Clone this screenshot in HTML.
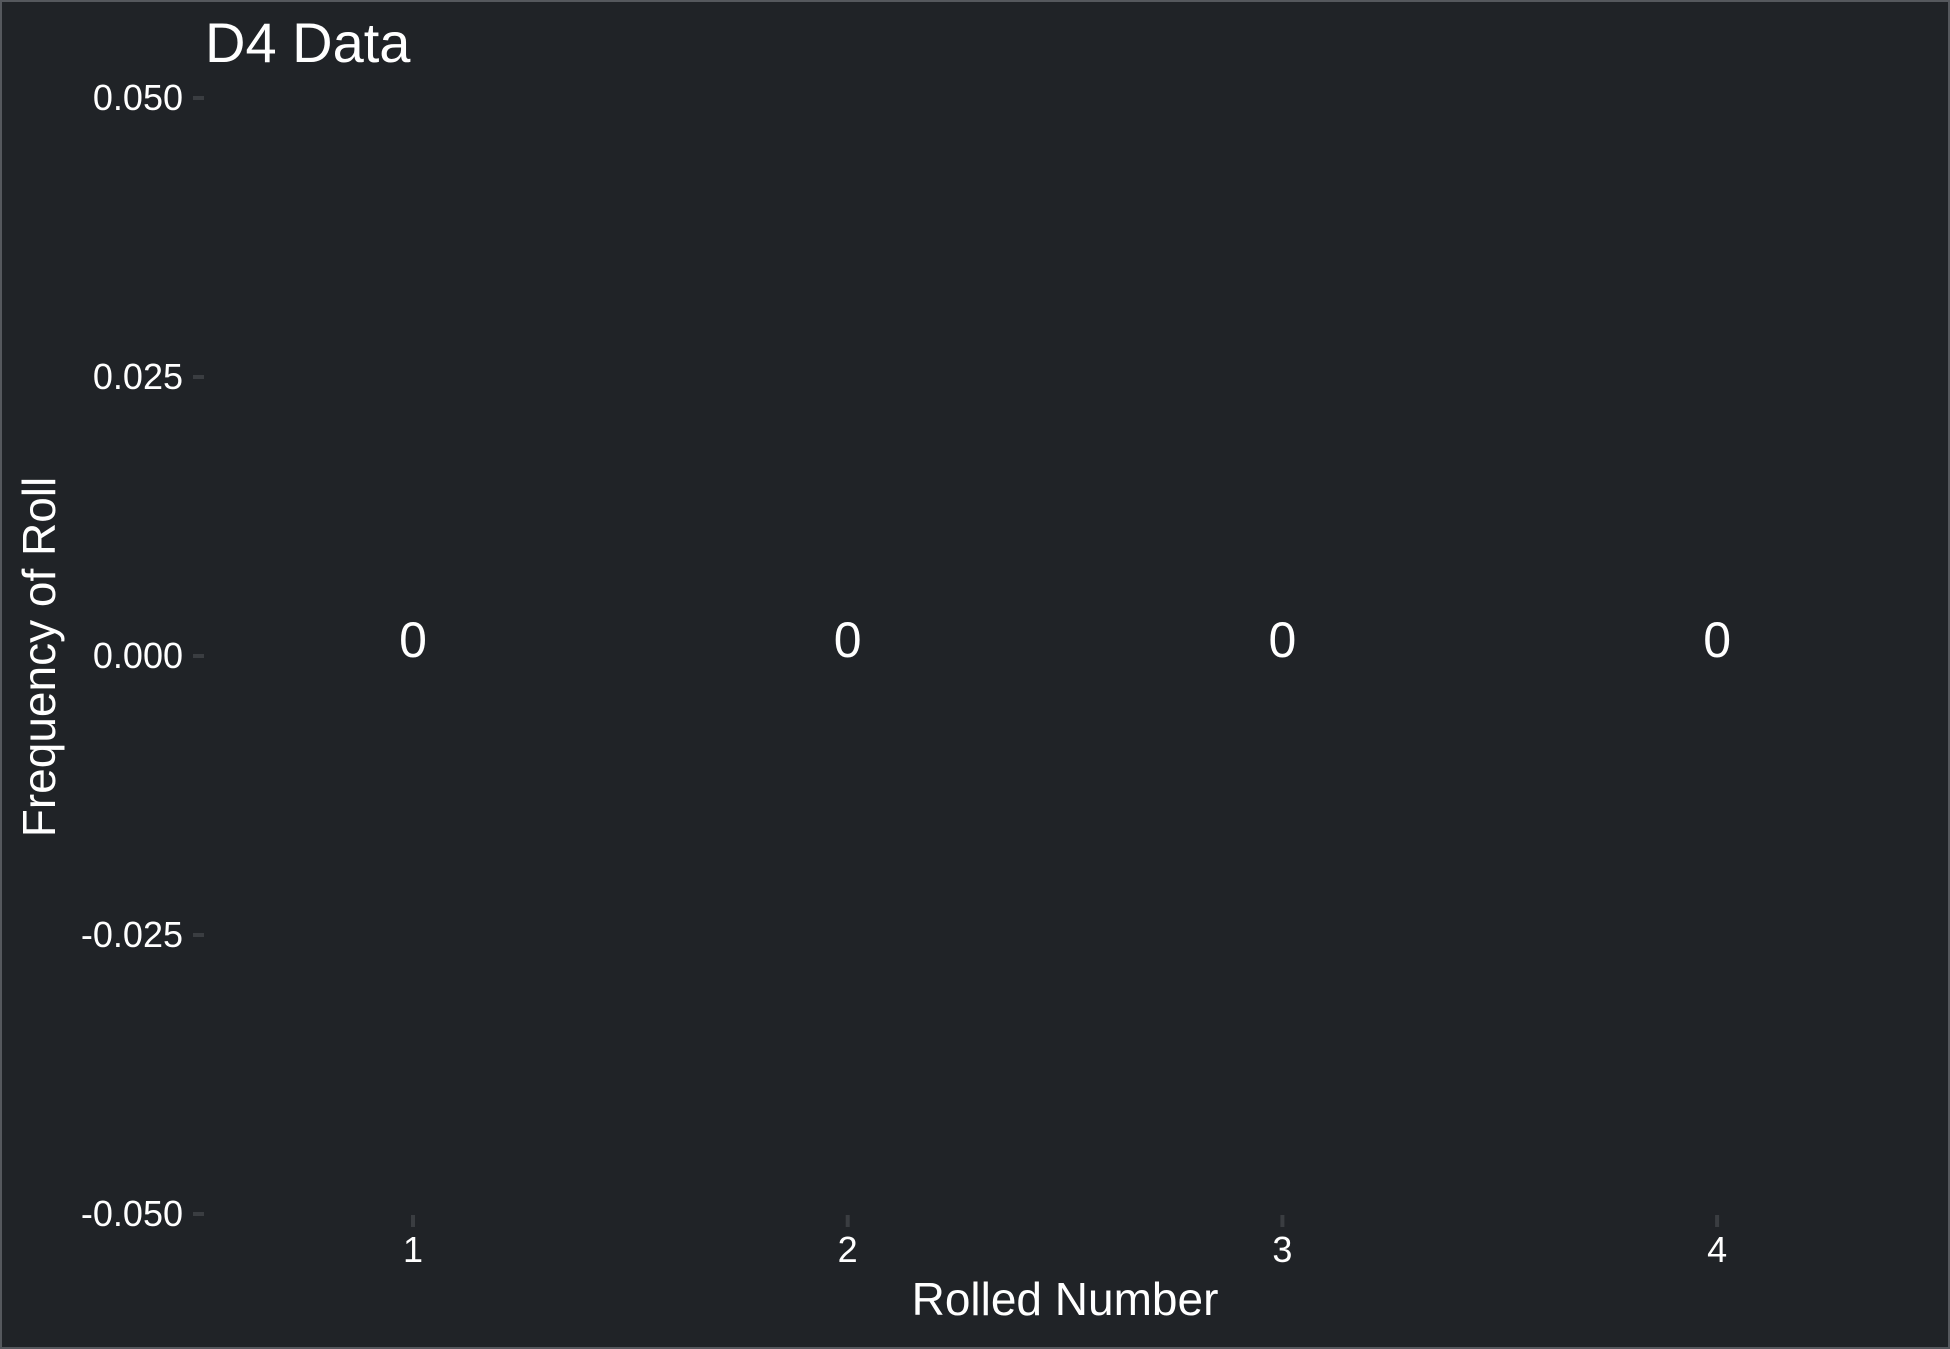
<!DOCTYPE html>
<html><head><meta charset="utf-8"><style>
html,body{margin:0;padding:0;background:#202327;}
svg{display:block;}
text{font-family:"Liberation Sans",sans-serif;fill:#fff;}
</style></head><body>
<svg width="1950" height="1349" viewBox="0 0 1950 1349">
<rect x="1" y="1" width="1948" height="1347" fill="#202327" stroke="#55585d" stroke-width="2"/>
<text x="205" y="62" font-size="56">D4 Data</text>
<g id="yaxis"></g>
<g id="xaxis"></g>
<g id="marks"></g>
<text x="1065" y="1315" font-size="46" text-anchor="middle">Rolled Number</text>
<text transform="translate(55,657) rotate(-90)" font-size="46" text-anchor="middle">Frequency of Roll</text>
</svg>
<script>
const categories = ["1","2","3","4"];
const values = [0,0,0,0];
const yTicks = [0.05,0.025,0,-0.025,-0.05];
const yTickLabels = ["0.050","0.025","0.000","-0.025","-0.050"];
const NS="http://www.w3.org/2000/svg";
function y(v){return 656 - v*(1116/0.1);}
function x(i){return 413 + i*434.7;}
function mk(tag,attrs,parent,txt){const e=document.createElementNS(NS,tag);for(const k in attrs)e.setAttribute(k,attrs[k]);if(txt!==undefined)e.textContent=txt;parent.appendChild(e);return e;}
const ya=document.getElementById('yaxis'),xa=document.getElementById('xaxis'),mg=document.getElementById('marks');
yTicks.forEach((t,i)=>{
  const l=mk('line',{x1:193,x2:204,y1:y(t),y2:y(t),stroke:'#3a3d41','stroke-width':4},ya);
  
  
  const tx=mk('text',{x:183,y:y(t)+12,'font-size':36,'text-anchor':'end'},ya,yTickLabels[i]);
  
  
});
categories.forEach((c,i)=>{
  const l=mk('line',{x1:x(i),x2:x(i),y1:1215,y2:1227,stroke:'#3a3d41','stroke-width':4},xa);
  
  
  const tx=mk('text',{x:x(i),y:1262,'font-size':36,'text-anchor':'middle'},xa,c);
  
  
  const v=mk('text',{x:x(i),y:y(values[i])+1,'font-size':50,'text-anchor':'middle'},mg,String(values[i]));
  
  
});
</script>
</body></html>
